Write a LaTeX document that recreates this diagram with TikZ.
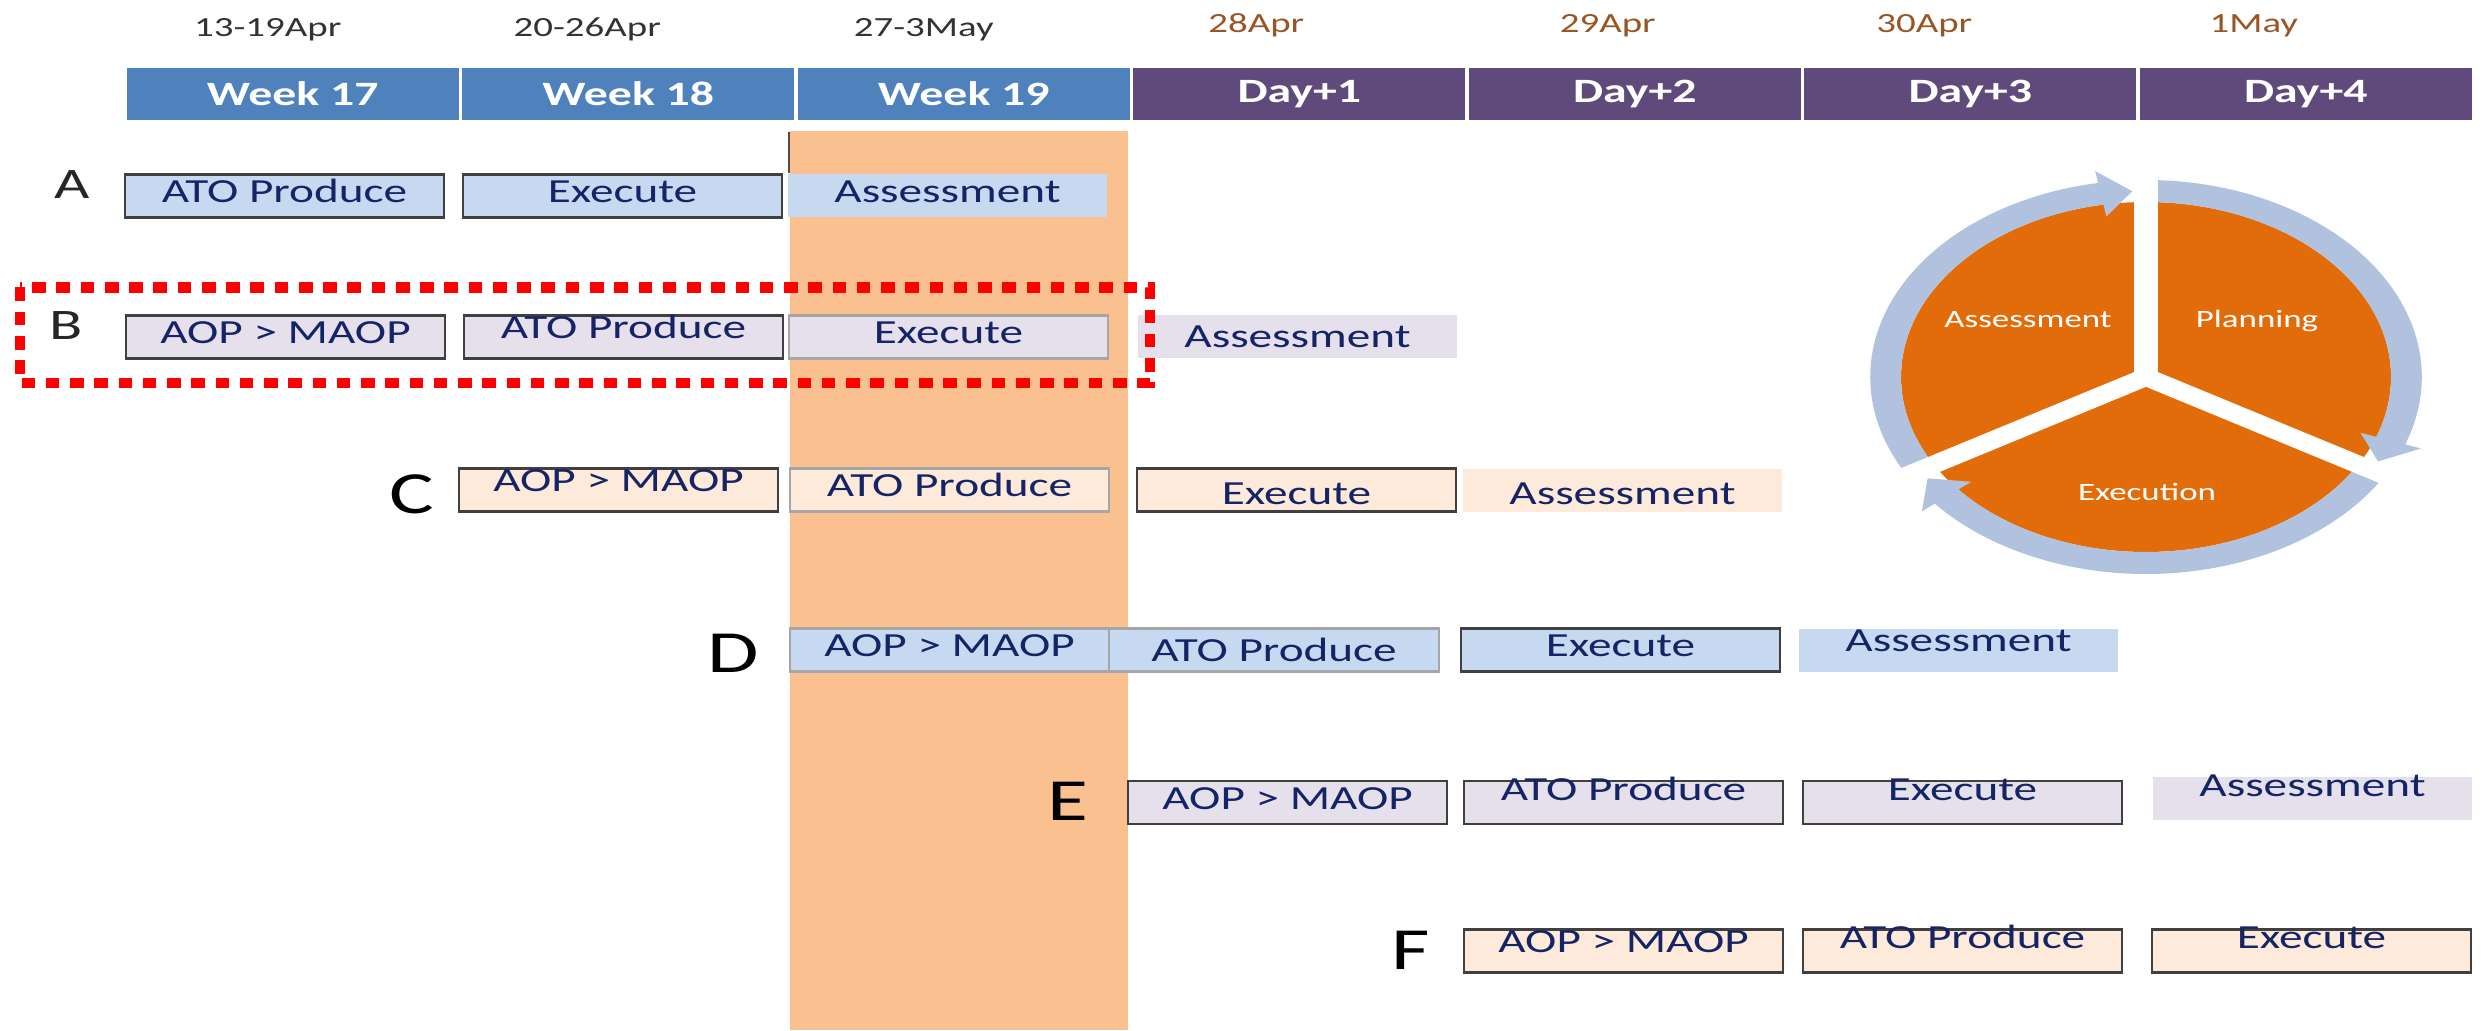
\documentclass[tikz,border=0pt]{standalone}
\usepackage{fontspec}
\setmainfont{Carlito}[FakeStretch=1.4]
\usepackage{tikz}
\usetikzlibrary{positioning}

\definecolor{weekblue}{RGB}{79,129,189}
\definecolor{daypurple}{RGB}{96,74,123}
\definecolor{bandorange}{RGB}{250,192,143}
\definecolor{taskblue}{RGB}{198,217,241}
\definecolor{tasklav}{RGB}{229,224,236}
\definecolor{taskpeach}{RGB}{253,234,218}
\definecolor{tasktext}{RGB}{20,36,100}
\definecolor{datebrown}{RGB}{152,86,38}
\definecolor{cycleorange}{RGB}{227,108,10}
\definecolor{ringblue}{RGB}{176,194,222}

\tikzstyle{headcell} = [rectangle, minimum width=3.355cm, minimum height=0.56cm, inner sep=0pt, outer sep=0pt, draw=white, line width=0.9pt, text=white, font=\fontsize{9.7}{11}\selectfont\bfseries]
\tikzstyle{week} = [headcell, fill=weekblue]
\tikzstyle{day} = [headcell, fill=daypurple]
\tikzstyle{weekdate} = [anchor=base, inner sep=0pt, text=black!80, font=\fontsize{7.9}{9}\selectfont]
\tikzstyle{daydate} = [weekdate, text=datebrown]
\tikzstyle{task} = [rectangle, minimum width=3.19cm, minimum height=0.43cm, inner sep=0pt, outer sep=0pt, text=tasktext, font=\fontsize{9.6}{11}\selectfont, text height=0.22cm, text depth=0cm]
\tikzstyle{bluetask} = [task, fill=taskblue]
\tikzstyle{lavtask} = [task, fill=tasklav]
\tikzstyle{peachtask} = [task, fill=taskpeach]
\tikzstyle{taskline} = [draw=black!75, line width=0.8pt]
\tikzstyle{softline} = [draw=black!35, line width=0.8pt]
\tikzstyle{txtover} = [text height=0.10cm, text depth=0.15cm]
\tikzstyle{txthigh} = [text height=0.14cm, text depth=0.11cm]
\tikzstyle{txtmid} = [text height=0.19cm, text depth=0.06cm]
\tikzstyle{txtlow} = [text height=0.29cm, text depth=0cm]
\tikzstyle{rowlabel} = [anchor=base, inner sep=0pt, text=black!85, font=\fontsize{12.4}{14}\selectfont]
\tikzstyle{rowlabelbig} = [anchor=base, inner sep=0pt, text=black, font=\fontsize{17}{19}\selectfont]
\tikzstyle{phase} = [anchor=base, inner sep=0pt, text=white, font=\fontsize{7.1}{8}\selectfont]
\tikzstyle{highlight} = [draw=red, line width=3.1pt, dash pattern=on 3.9pt off 3pt]

\begin{document}
\begin{tikzpicture}
\useasboundingbox (0,0) rectangle (24.83,10.30);

% week 19 band
\fill[bandorange] (7.90,0) rectangle (11.28,8.99);
\draw[black!70, line width=0.5pt] (7.89,8.98) -- (7.89,8.57);

% header
\node (wk17) [week, anchor=west] at (1.25,9.36) {Week 17};
\node (wk18) [week, right=0pt of wk17] {Week 18};
\node (wk19) [week, right=0pt of wk18] {Week 19};
\node (day1) [day, right=0pt of wk19] {Day+1};
\node (day2) [day, right=0pt of day1] {Day+2};
\node (day3) [day, right=0pt of day2] {Day+3};
\node (day4) [day, right=0pt of day3] {Day+4};

\node (dt17) [weekdate] at ([xshift=-0.25cm, yshift=0.29cm]wk17.north) {13-19Apr};
\node (dt18) [weekdate] at ([xshift=-0.41cm, yshift=0.29cm]wk18.north) {20-26Apr};
\node (dt19) [weekdate] at ([xshift=-0.40cm, yshift=0.29cm]wk19.north) {27-3May};
\node (dtd1) [daydate] at ([xshift=-0.43cm, yshift=0.33cm]day1.north) {28Apr};
\node (dtd2) [daydate] at ([xshift=-0.27cm, yshift=0.33cm]day2.north) {29Apr};
\node (dtd3) [daydate] at ([xshift=-0.46cm, yshift=0.33cm]day3.north) {30Apr};
\node (dtd4) [daydate] at ([xshift=-0.52cm, yshift=0.33cm]day4.north) {1May};

% row A
\node (labA) [rowlabel] at (0.72,8.31) {A};
\node (a1) [bluetask, taskline, txtmid, anchor=west] at (1.25,8.34) {ATO Produce};
\node (a2) [bluetask, taskline, txtmid, right=0.19cm of a1] {Execute};
\node (a3) [bluetask, txtmid, right=0.06cm of a2] {Assessment};

% row B
\node (labB) [rowlabel] at (0.66,6.90) {B};
\node (b1) [lavtask, taskline, txtmid, anchor=west] at (1.26,6.93) {AOP > MAOP};
\node (b2) [lavtask, taskline, txthigh, right=0.19cm of b1] {ATO Produce};
\node (b3) [lavtask, softline, txtmid, right=0.06cm of b2] {Execute};
\node (b4) [lavtask, right=0.30cm of b3] {Assessment};

% row C
\node (labC) [rowlabelbig] at (4.12,5.16) {C};
\node (c1) [peachtask, taskline, txthigh, anchor=west] at (4.59,5.40) {AOP > MAOP};
\node (c2) [peachtask, softline, txtmid, right=0.12cm of c1] {ATO Produce};
\node (c3) [peachtask, taskline, txtlow, right=0.28cm of c2] {Execute};
\node (c4) [peachtask, txtlow, right=0.07cm of c3] {Assessment};

% row D
\node (labD) [rowlabelbig] at (7.33,3.58) {D};
\node (d1) [bluetask, softline, txtmid, anchor=west] at (7.90,3.80) {AOP > MAOP};
\node (d2) [bluetask, softline, minimum width=3.30cm, right=0pt of d1] {ATO Produce};
\node (d3) [bluetask, taskline, txtmid, right=0.22cm of d2] {Execute};
\node (d4) [bluetask, txthigh, right=0.19cm of d3] {Assessment};

% row E
\node (labE) [rowlabelbig] at (10.68,2.10) {E};
\node (e1) [lavtask, taskline, txtmid, anchor=west] at (11.28,2.275) {AOP > MAOP};
\node (e2) [lavtask, taskline, txtover, right=0.17cm of e1] {ATO Produce};
\node (e3) [lavtask, taskline, txtover, right=0.20cm of e2] {Execute};
\node (e4) [lavtask, txtover, right=0.31cm of e3, yshift=0.04cm] {Assessment};

% row F
\node (labF) [rowlabelbig] at (14.11,0.61) {F};
\node (f1) [peachtask, taskline, txthigh, anchor=west] at (14.64,0.79) {AOP > MAOP};
\node (f2) [peachtask, taskline, txtover, right=0.20cm of f1] {ATO Produce};
\node (f3) [peachtask, taskline, txtover, right=0.30cm of f2] {Execute};

% highlight round row B
\draw[highlight] (0.20,7.425) rectangle (11.50,6.47);

% cycle
\begin{scope}[shift={(21.46,6.53)}, xscale=1.4]
  \fill[cycleorange] (0,0) circle[radius=1.75];
  \fill[ringblue] (208:1.97) arc[start angle=208, end angle=100, radius=1.97] -- (100:2.09) -- (93:1.86) -- (100:1.63) -- (100:1.75) arc[start angle=100, end angle=208, radius=1.75] -- cycle;
  \fill[ringblue] (88:1.97) arc[start angle=88, end angle=-20, radius=1.97] -- (-20:2.09) -- (-27:1.86) -- (-20:1.63) -- (-20:1.75) arc[start angle=-20, end angle=88, radius=1.75] -- cycle;
  \fill[ringblue] (-32:1.97) arc[start angle=-32, end angle=-140, radius=1.97] -- (-140:2.09) -- (-147:1.86) -- (-140:1.63) -- (-140:1.75) arc[start angle=-140, end angle=-32, radius=1.75] -- cycle;
  \foreach \a in {90,210,330}
    \fill[white, rotate=\a] (0,-0.085) rectangle (2.15,0.085);
\end{scope}
\node (assess) [phase] at (20.28,7.02) {Assessment};
\node (plan) [phase] at (22.57,7.02) {Planning};
\node (exec) [phase] at (21.47,5.30) {Execution};
\end{tikzpicture}
\end{document}
